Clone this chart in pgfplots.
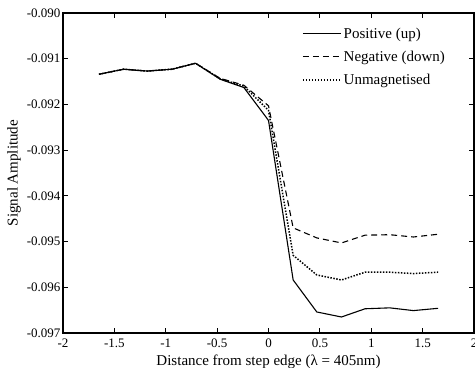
\documentclass[border=0pt]{standalone}
\usepackage{fontspec}
\setmainfont{Liberation Serif}
\usepackage{pgfplots}
\pgfplotsset{compat=1.18}
\begin{document}
\begin{tikzpicture}
\begin{axis}[
  scale only axis,
  width=411pt, height=320pt,
  xmin=-2, xmax=2, ymin=-0.097, ymax=-0.090,
  xtick={-2,-1.5,-1,-0.5,0,0.5,1,1.5,2},
  xticklabels={-2,-1.5,-1,-0.5,0,0.5,1,1.5,2},
  ytick={-0.097,-0.096,-0.095,-0.094,-0.093,-0.092,-0.091,-0.090},
  yticklabels={-0.097,-0.096,-0.095,-0.094,-0.093,-0.092,-0.091,-0.090},
  scaled y ticks=false,
  tick align=inside,
  major tick length=5pt,
  axis line style={line width=1.2pt},
  tick style={line width=0.8pt, black},
  tick label style={font=\fontsize{13}{15}\selectfont},
  xticklabel style={yshift=-2pt},
  yticklabel style={xshift=1pt},
  xlabel={Distance from step edge (\fontspec{Liberation Serif}λ = 405nm)},
  ylabel={Signal Amplitude},
  xlabel style={font=\fontsize{15}{17}\selectfont, at={([yshift=-29pt]axis description cs:0.5,0)}, anchor=center},
  ylabel style={font=\fontsize{15}{17}\selectfont, at={([xshift=-49pt]axis description cs:0,0.5)}, anchor=center, rotate=0},
  legend style={draw=none, fill=none, at={(0.5815,0.96)}, anchor=north west,
    font=\fontsize{15}{17}\selectfont, row sep=7pt, inner sep=0pt},
  legend cell align=left,
  legend image code/.code={\draw[#1] (0pt,0pt) -- (38pt,0pt);},
]
\addplot[black, line width=1.1pt] coordinates {
(-1.65,-0.09134) (-1.41,-0.09123) (-1.18,-0.09127) (-0.94,-0.09123) (-0.71,-0.09110)
(-0.47,-0.09145) (-0.24,-0.09163) (0,-0.09235) (0.24,-0.09584) (0.47,-0.09654)
(0.71,-0.09665) (0.94,-0.09647) (1.18,-0.09645) (1.41,-0.09651) (1.65,-0.09646)};
\addlegendentry{Positive (up)}
\addplot[black, line width=1.1pt, dash pattern=on 6pt off 4pt] coordinates {
(-1.65,-0.09134) (-1.41,-0.09123) (-1.18,-0.09127) (-0.94,-0.09123) (-0.71,-0.09110)
(-0.47,-0.09143) (-0.24,-0.09158) (0,-0.09203) (0.24,-0.09470) (0.47,-0.09492)
(0.71,-0.09503) (0.94,-0.09486) (1.18,-0.09485) (1.41,-0.09490) (1.65,-0.09484)};
\addlegendentry{Negative (down)}
\addplot[black, line width=1.5pt, dash pattern=on 1.5pt off 1.5pt] coordinates {
(-1.65,-0.09134) (-1.41,-0.09123) (-1.18,-0.09127) (-0.94,-0.09123) (-0.71,-0.09110)
(-0.47,-0.09144) (-0.24,-0.09160) (0,-0.09213) (0.24,-0.09530) (0.47,-0.09573)
(0.71,-0.09584) (0.94,-0.09567) (1.18,-0.09567) (1.41,-0.09570) (1.65,-0.09567)};
\addlegendentry{Unmagnetised}
\end{axis}
\pgfresetboundingbox
\path ([xshift=-63pt,yshift=-35pt]current axis.south west) rectangle ([xshift=1pt,yshift=13pt]current axis.north east);
\end{tikzpicture}
\end{document}
